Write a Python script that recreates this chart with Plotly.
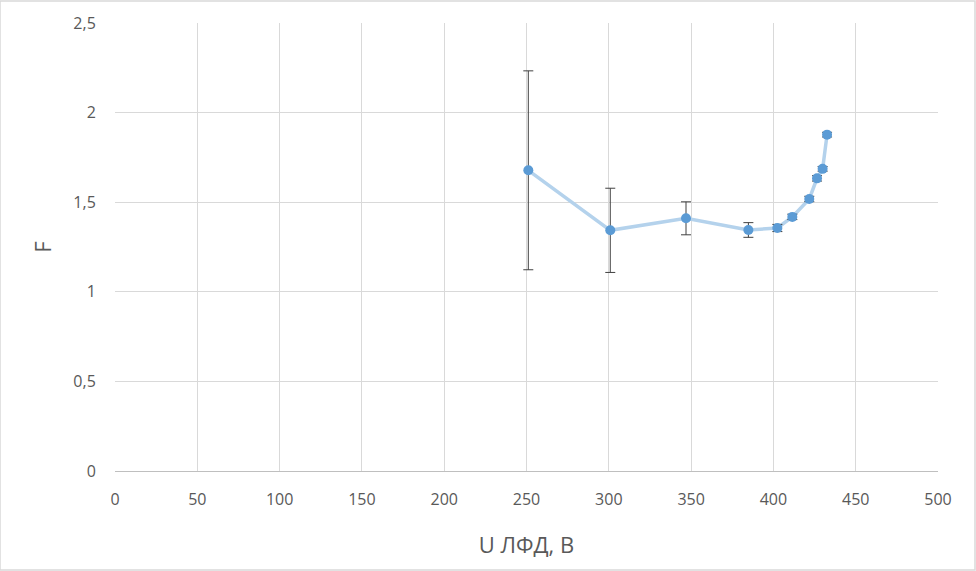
import plotly.graph_objects as go

u_lfd = [251.1, 300.9, 346.9, 384.8, 402.4, 411.5, 421.8, 426.5, 429.9, 432.6]
f_vals = [1.678, 1.343, 1.410, 1.345, 1.356, 1.418, 1.518, 1.633, 1.686, 1.877]
f_err = [0.555, 0.235, 0.092, 0.041, 0.02, 0.015, 0.015, 0.015, 0.013, 0.013]

x_ticks = [0, 50, 100, 150, 200, 250, 300, 350, 400, 450, 500]
y_ticks = [0, 0.5, 1, 1.5, 2, 2.5]
y_tick_text = ["0", "0,5", "1", "1,5", "2", "2,5"]

fig = go.Figure()
fig.add_trace(go.Scatter(
    x=u_lfd, y=f_vals, mode="lines",
    line=dict(color="#B4D2EC", width=3.5),
    hoverinfo="skip", showlegend=False,
))
fig.add_trace(go.Scatter(
    x=u_lfd, y=f_vals, mode="markers",
    marker=dict(color="#5B9BD5", size=10),
    error_y=dict(type="data", array=f_err, visible=True,
                 color="#404040", thickness=1, width=5),
    showlegend=False,
))

font_fam = "Open Sans, Liberation Sans, sans-serif"
fig.update_layout(
    width=976, height=571,
    margin=dict(l=115, r=38, t=23, b=100),
    paper_bgcolor="white", plot_bgcolor="white",
    separators=", ",
    font=dict(family=font_fam, color="#595959", size=16),
    xaxis=dict(
        range=[0, 500], tickvals=x_ticks,
        showgrid=True, gridcolor="#D9D9D9", gridwidth=1,
        showline=True, linecolor="#BFBFBF", linewidth=1,
        zeroline=False, ticks="outside", ticklen=14, tickcolor="rgba(0,0,0,0)",
        tickfont=dict(size=16, color="#595959"),
        title=dict(text="U ЛФД, В", font=dict(size=22, color="#595959"), standoff=28),
    ),
    yaxis=dict(
        range=[0, 2.5], tickvals=y_ticks, ticktext=y_tick_text,
        showgrid=True, gridcolor="#D9D9D9", gridwidth=1,
        zeroline=False, showline=False,
        ticks="outside", ticklen=15, tickcolor="rgba(0,0,0,0)",
        tickfont=dict(size=16, color="#595959"),
        title=dict(text="F", font=dict(size=22, color="#595959"), standoff=15),
    ),
    shapes=[dict(type="rect", xref="paper", yref="paper",
                 x0=-115/823, x1=1+37/823, y0=-99/448, y1=1+22/448,
                 line=dict(color="#D9D9D9", width=1.5))],
)

fig.write_html("out.html")
